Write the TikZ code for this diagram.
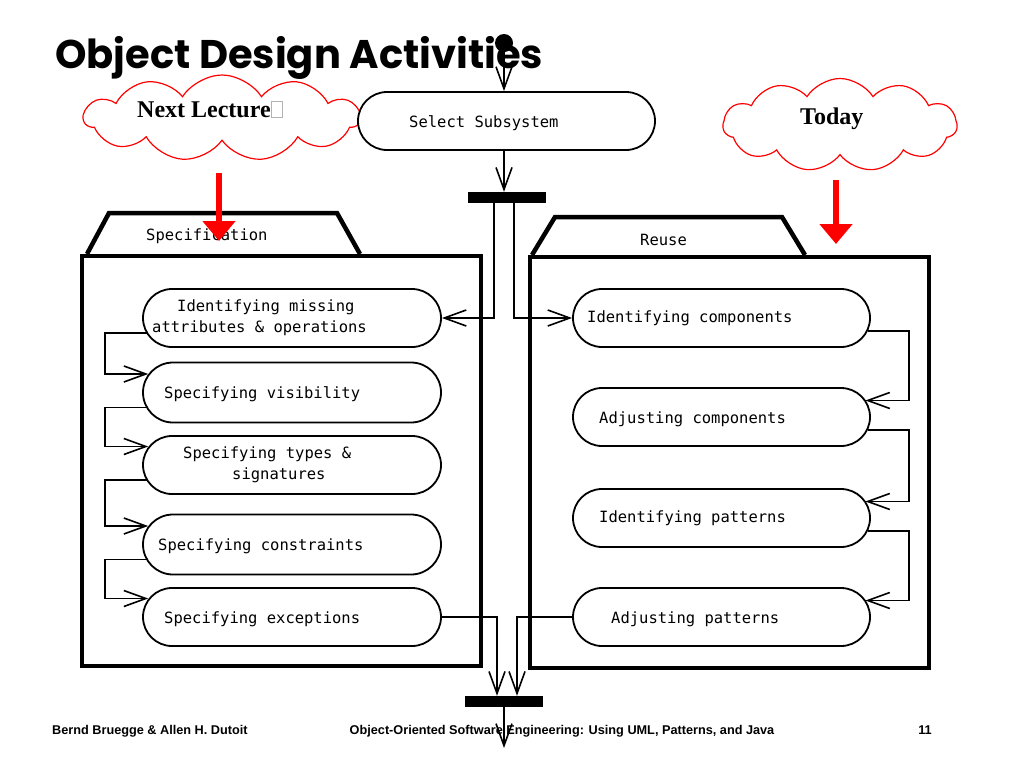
\documentclass[tikz,border=0pt]{standalone}
\usepackage{fontspec}
\setmainfont{Liberation Serif}
\newfontfamily\monof{DejaVu Sans Mono}
\newfontfamily\titlef{Poppins}
\newfontfamily\footf{Liberation Sans}
\usetikzlibrary{shapes.misc,shapes.symbols,arrows.meta,calc}
\begin{document}
\begin{tikzpicture}[x=1pt,y=-1pt,
  act/.style={rounded rectangle, draw, line width=1.8pt, minimum width=298pt, minimum height=58pt, inner sep=0pt, fill=white},
  txt/.style={font=\monof\fontsize{15.5}{21}\selectfont, anchor=west, inner sep=0pt, align=left},
  conn/.style={line width=1.6pt, -{Straight Barb[length=22pt,width=16pt]}},
  bar/.style={fill=black, inner sep=0pt, minimum width=78pt, minimum height=11pt},
  cloudn/.style={cloud, draw=red, line width=1.2pt, cloud puffs=11, cloud puff arc=115, cloud ignores aspect, inner sep=0pt},
  redarrow/.style={draw=red, line width=6pt, -{Triangle[length=20pt,width=32pt]}, red},
  pkgline/.style={line width=4pt},
  tabline/.style={line width=4.5pt, line join=miter},
  foot/.style={inner sep=0pt, font=\footf\bfseries\fontsize{12.7}{13}\selectfont}
]
\useasboundingbox[fill=white] (0,0) rectangle (1024,768);

% title
\node[anchor=base west, inner sep=0pt, font=\titlef\bfseries\fontsize{40}{40}\selectfont] (title) at (55,68) {Object Design Activities};

% clouds
\node[cloudn, minimum width=276pt, minimum height=86pt] (cl1) at (222,118) {};
\node[anchor=base west, inner sep=0pt, font=\bfseries\fontsize{24}{24}\selectfont] (cl1t) at (137,117) {Next Lecture{\color{gray!60}\setlength\fboxsep{0pt}\setlength\fboxrule{1pt}\fbox{\rule{0pt}{15pt}\hspace{10pt}}}};
\node[cloudn, minimum width=234pt, minimum height=93pt] (cl2) at (840,125) {};
\node[anchor=base west, inner sep=0pt, font=\bfseries\fontsize{24}{24}\selectfont] (cl2t) at (800,124) {Today};

% packages
\draw[tabline] (87,254) -- (109,213) -- (337,213) -- (360,254);
\draw[pkgline] (82,256) rectangle (481,666);
\node[txt] (spec) at (146,236) {Specification};
\draw[tabline] (532,255) -- (555,217) -- (782,217) -- (805,255);
\draw[pkgline] (530,257) rectangle (929,668);
\node[txt] (reuse) at (640,240) {Reuse};

% start, select, fork
\node[circle, fill=black, minimum size=18pt, inner sep=0pt] (start) at (504,43) {};
\node[act, minimum width=297pt] (sel) at (506.5,121) {};
\node[txt] at (409,123) {Select Subsystem};
\node[bar] (fork) at (507,197.5) {};

% left activities
\node[act] (s1) at (292,318) {};
\node[act, minimum height=60pt] (s2) at (292,392.5) {};
\node[act] (s3) at (292,465) {};
\node[act, minimum height=60pt] (s4) at (292,544.5) {};
\node[act] (s5) at (292,617) {};
\node[txt] at (152,318) {\hspace*{25pt}Identifying missing\\attributes \& operations};
\node[txt] at (164,394) {Specifying visibility};
\node[txt] at (183,465) {Specifying types \&\\\hspace*{49pt}signatures};
\node[txt] at (158,546) {Specifying constraints};
\node[txt] at (164,619) {Specifying exceptions};

% right activities
\node[act, minimum width=297pt] (r1) at (721.5,318) {};
\node[act, minimum width=297pt] (r2) at (721.5,417) {};
\node[act, minimum width=297pt] (r3) at (721.5,518) {};
\node[act, minimum width=297pt] (r4) at (721.5,617) {};
\node[txt] at (587,318) {Identifying components};
\node[txt] at (599,419) {Adjusting components};
\node[txt] at (599,518) {Identifying patterns};
\node[txt] at (611,619) {Adjusting patterns};

% join
\node[bar] (join) at (504,701.5) {};
\coordinate (end) at (504,748);

% connectors
\draw[conn] (start) -- (start |- sel.north);
\draw[conn] (sel.south -| start) -- (fork.north -| start);
\draw[conn] ($(fork.south)+(-13,0)$) |- (s1.east);
\draw[conn] ($(fork.south)+(7,0)$) |- (r1.west);
\foreach \a/\b in {s1/s2,s2/s3,s3/s4,s4/s5}
  \draw[conn] ($(\a.west)+(4.7,15)$) -- ++(-42,0) |- ($(\b.west)+(6.1,-18.5)$);
\foreach \a/\b in {r1/r2,r2/r3,r3/r4}
  \draw[conn] ($(\a.east)+(-3.1,13)$) -- ++(41,0) |- ($(\b.east)+(-5.5,-16.5)$);
\draw[conn] (s5.east) -| ($(join.north)+(-7,0)$);
\draw[conn] (r4.west) -| ($(join.north)+(13,0)$);
\draw[conn] (join.south) -- (end);

% red arrows
\coordinate (ra1) at (219,173);
\coordinate (rb1) at (219,241);
\coordinate (ra2) at (836,180);
\coordinate (rb2) at (836,244);
\draw[redarrow] (ra1) -- (rb1);
\draw[redarrow] (ra2) -- (rb2);

% footer
\node[foot, anchor=base west] (f1) at (52,734) {Bernd Bruegge \& Allen H. Dutoit};
\node[foot, anchor=base] (f2) at (562,734) {Object-Oriented Software Engineering: Using UML, Patterns, and Java};
\node[foot, anchor=base] (f3) at (925,734) {11};
\end{tikzpicture}
\end{document}
